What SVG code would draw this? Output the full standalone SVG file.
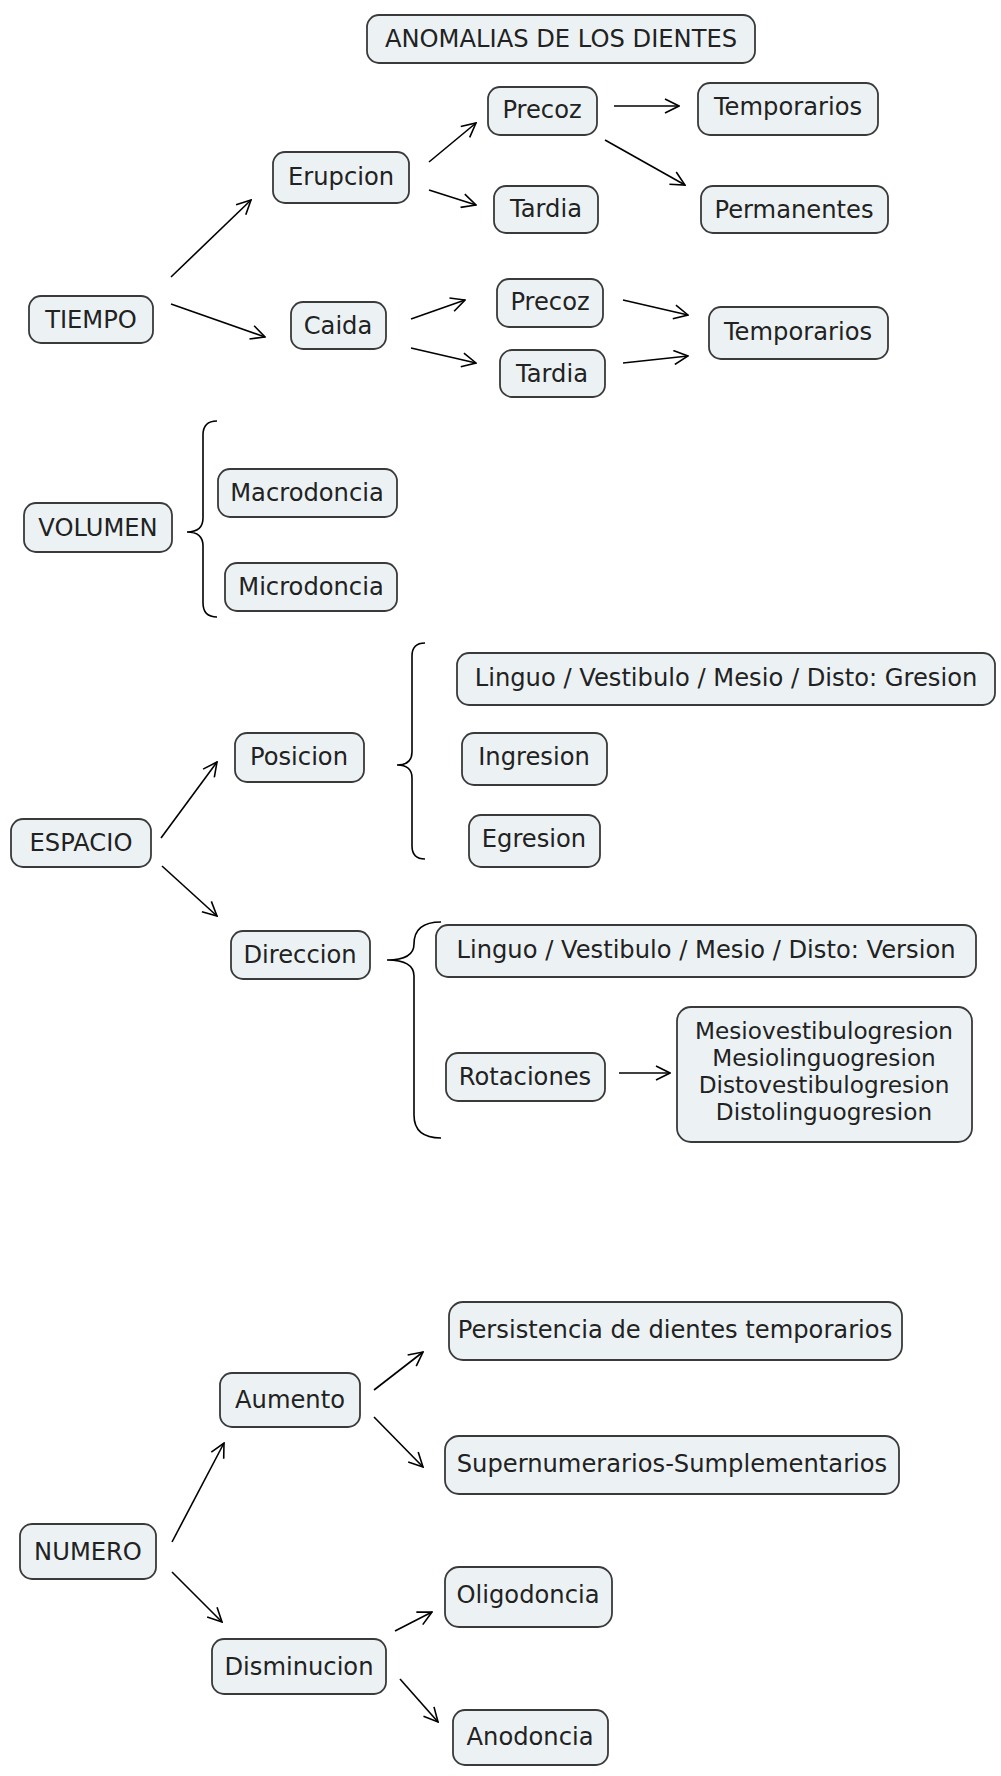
<svg xmlns="http://www.w3.org/2000/svg" width="1001" height="1776" viewBox="0 0 1001 1776">
<style>
.n rect{fill:#ECF2F4;stroke:#3a3a3a;stroke-width:1.8}
.n text{font-family:"DejaVu Sans","Verdana",sans-serif;font-size:24.2px;fill:#222;text-anchor:middle}
.c line{stroke:#000;stroke-width:1.6;marker-end:url(#ah)}
.b path{fill:none;stroke:#000;stroke-width:1.6}
</style>
<defs>
<marker id="ah" viewBox="0 0 16 16" refX="15" refY="8" markerWidth="16" markerHeight="16" markerUnits="userSpaceOnUse" orient="auto">
<path d="M1,1 L15,8 L1,15" fill="none" stroke="#000" stroke-width="1.6"/>
</marker>
</defs>
<rect width="1001" height="1776" fill="#fff"/>
<g id="title" class="n"><rect x="367" y="15" width="388" height="48" rx="12"/><text x="561" y="47">ANOMALIAS DE LOS DIENTES</text></g>
<g id="tiempo" class="n"><rect x="29" y="296" width="124" height="47" rx="12"/><text x="91" y="328">TIEMPO</text></g>
<g id="erupcion" class="n"><rect x="273" y="152" width="136" height="51" rx="12"/><text x="341" y="185">Erupcion</text></g>
<g id="precoz1" class="n"><rect x="488" y="87" width="109" height="48" rx="12"/><text x="542" y="118">Precoz</text></g>
<g id="tardia1" class="n"><rect x="494" y="186" width="104" height="47" rx="12"/><text x="546" y="217">Tardia</text></g>
<g id="temporarios1" class="n"><rect x="698" y="83" width="180" height="52" rx="12"/><text x="788" y="115">Temporarios</text></g>
<g id="permanentes" class="n"><rect x="701" y="186" width="187" height="47" rx="12"/><text x="794" y="218">Permanentes</text></g>
<g id="caida" class="n"><rect x="291" y="302" width="95" height="47" rx="12"/><text x="338" y="334">Caida</text></g>
<g id="precoz2" class="n"><rect x="497" y="279" width="106" height="48" rx="12"/><text x="550" y="310">Precoz</text></g>
<g id="tardia2" class="n"><rect x="500" y="350" width="105" height="47" rx="12"/><text x="552" y="382">Tardia</text></g>
<g id="temporarios2" class="n"><rect x="709" y="307" width="179" height="52" rx="12"/><text x="798" y="340">Temporarios</text></g>
<g id="volumen" class="n"><rect x="24" y="503" width="148" height="49" rx="12"/><text x="98" y="536">VOLUMEN</text></g>
<g id="macrodoncia" class="n"><rect x="218" y="469" width="179" height="48" rx="12"/><text x="307" y="501">Macrodoncia</text></g>
<g id="microdoncia" class="n"><rect x="225" y="563" width="172" height="48" rx="12"/><text x="311" y="595">Microdoncia</text></g>
<g id="espacio" class="n"><rect x="11" y="819" width="140" height="48" rx="12"/><text x="81" y="851">ESPACIO</text></g>
<g id="posicion" class="n"><rect x="235" y="733" width="129" height="49" rx="12"/><text x="299" y="765">Posicion</text></g>
<g id="gresion" class="n"><rect x="457" y="653" width="538" height="52" rx="12"/><text x="726" y="686">Linguo / Vestibulo / Mesio / Disto: Gresion</text></g>
<g id="ingresion" class="n"><rect x="462" y="733" width="145" height="52" rx="12"/><text x="534" y="765">Ingresion</text></g>
<g id="egresion" class="n"><rect x="469" y="815" width="131" height="52" rx="12"/><text x="534" y="847">Egresion</text></g>
<g id="direccion" class="n"><rect x="231" y="931" width="139" height="48" rx="12"/><text x="300" y="963">Direccion</text></g>
<g id="version" class="n"><rect x="436" y="925" width="540" height="52" rx="12"/><text x="706" y="958">Linguo / Vestibulo / Mesio / Disto: Version</text></g>
<g id="rotaciones" class="n"><rect x="446" y="1053" width="159" height="48" rx="12"/><text x="525" y="1085">Rotaciones</text></g>
<g id="rotlist" class="n"><rect x="677" y="1007" width="295" height="135" rx="14"/><text x="824" style="font-size:23.2px"><tspan x="824" y="1039">Mesiovestibulogresion</tspan><tspan x="824" y="1066">Mesiolinguogresion</tspan><tspan x="824" y="1093">Distovestibulogresion</tspan><tspan x="824" y="1120">Distolinguogresion</tspan></text></g>
<g id="numero" class="n"><rect x="20" y="1524" width="136" height="55" rx="12"/><text x="88" y="1560">NUMERO</text></g>
<g id="aumento" class="n"><rect x="220" y="1373" width="140" height="54" rx="12"/><text x="290" y="1408">Aumento</text></g>
<g id="persistencia" class="n"><rect x="449" y="1302" width="453" height="58" rx="14"/><text x="675" y="1338">Persistencia de dientes temporarios</text></g>
<g id="supernumerarios" class="n"><rect x="445" y="1436" width="454" height="58" rx="14"/><text x="672" y="1472">Supernumerarios-Sumplementarios</text></g>
<g id="disminucion" class="n"><rect x="212" y="1639" width="174" height="55" rx="12"/><text x="299" y="1675">Disminucion</text></g>
<g id="oligodoncia" class="n"><rect x="445" y="1567" width="167" height="60" rx="14"/><text x="528" y="1603">Oligodoncia</text></g>
<g id="anodoncia" class="n"><rect x="453" y="1710" width="155" height="55" rx="12"/><text x="530" y="1745">Anodoncia</text></g>
<g id="connectors" class="c">
<line x1="171" y1="277" x2="251" y2="200"/>
<line x1="171" y1="304" x2="265" y2="337"/>
<line x1="429" y1="162" x2="476" y2="123"/>
<line x1="429" y1="190" x2="476" y2="205"/>
<line x1="614" y1="106" x2="679" y2="106"/>
<line x1="605" y1="140" x2="685" y2="185"/>
<line x1="411" y1="319" x2="465" y2="300"/>
<line x1="411" y1="348" x2="476" y2="363"/>
<line x1="623" y1="300" x2="688" y2="315"/>
<line x1="623" y1="363" x2="688" y2="356"/>
<line x1="161" y1="838" x2="217" y2="762"/>
<line x1="162" y1="866" x2="217" y2="916"/>
<line x1="619" y1="1073" x2="670" y2="1073"/>
<line x1="172" y1="1542" x2="224" y2="1443"/>
<line x1="374" y1="1390" x2="423" y2="1352"/>
<line x1="374" y1="1417" x2="423" y2="1467"/>
<line x1="172" y1="1572" x2="222" y2="1622"/>
<line x1="395" y1="1631" x2="432" y2="1612"/>
<line x1="400" y1="1679" x2="438" y2="1722"/>
</g>
<g id="braces" class="b">
<path d="M217,421 Q203,421 203,435 L203,518 Q203,532 187,532 Q203,532 203,546 L203,603 Q203,617 217,617"/>
<path d="M425,643 Q412,643 412,656 L412,752 Q412,765 397,765 Q412,765 412,778 L412,846 Q412,859 425,859"/>
<path d="M441,922 Q414,922 414,944 Q414,960 387,960 Q414,960 414,976 L414,1115 Q414,1138 441,1138"/>
</g>
</svg>
